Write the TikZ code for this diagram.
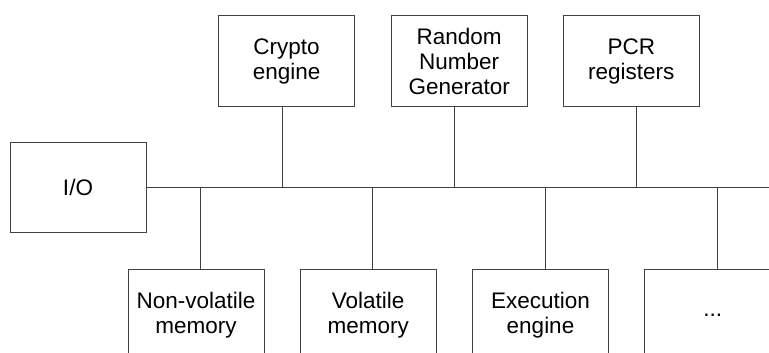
\documentclass[tikz,border=0pt]{standalone}
\usepackage{fontspec}
\setmainfont{Liberation Sans}
\usetikzlibrary{positioning}

\begin{document}
\begin{tikzpicture}[x=1pt, y=-1pt,
  unit/.style={rectangle, draw=black!75, line width=0.9pt, minimum width=136pt,
               minimum height=#1, align=center, inner sep=2pt,
               font=\fontsize{22.5}{25}\selectfont},
  unit/.default=91.4pt,
  wire/.style={draw=black!75, line width=0.9pt}
]
\clip (0,0) rectangle (769,353);

% I/O and the bus
\node[unit=90pt] (io) at (78,187.7) {I/O};
\coordinate (busend) at (775,187.7);
\draw[wire] (io.east) -- (busend);

% Top row
\node[unit] (crypto) at (286.6,61) {Crypto\\engine};
\node[unit] (rng) at (459.2,61) {Random\\Number\\Generator};
\node[unit] (pcr) at (631.3,61) {PCR\\registers};

% Bottom row
\node[unit=91pt] (nvm) at (196,314.8) {Non-volatile\\memory};
\node[unit=91pt] (vm) at (368.2,314.8) {Volatile\\memory};
\node[unit=91pt] (exec) at (540.5,314.8) {Execution\\engine};
\node[unit=91pt] (more) at (712.7,314.8) {...};

% Links to the bus
\draw[wire] ([xshift=-4.3pt]crypto.south) -- ([xshift=-4.3pt]crypto.south |- io.east);
\draw[wire] ([xshift=-4.3pt]rng.south) -- ([xshift=-4.3pt]rng.south |- io.east);
\draw[wire] ([xshift=4.7pt]pcr.south) -- ([xshift=4.7pt]pcr.south |- io.east);
\foreach \n in {nvm, vm, exec, more}
  \draw[wire] ([xshift=4.7pt]\n.north) -- ([xshift=4.7pt]\n.north |- io.east);
\end{tikzpicture}
\end{document}
